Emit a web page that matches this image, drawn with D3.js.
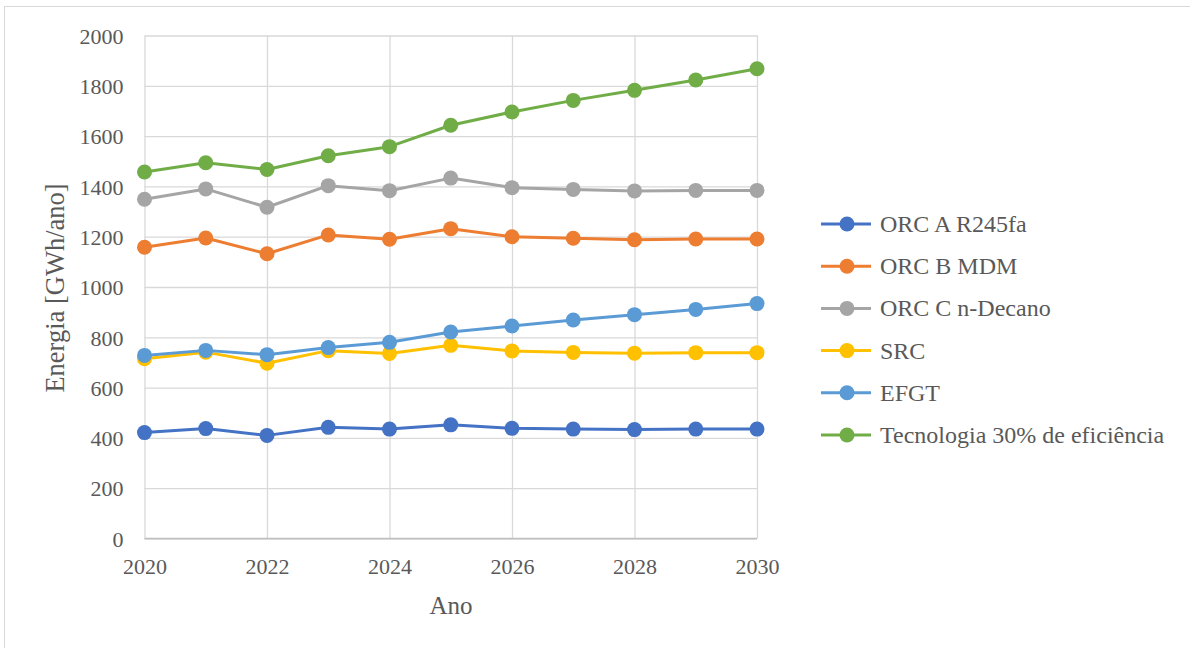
<!DOCTYPE html>
<html>
<head>
<meta charset="utf-8">
<script src="https://cdn.jsdelivr.net/npm/d3@7"></script>
<style>
  html, body { margin: 0; padding: 0; background: #fff; }
  svg { display: block; }
  text { font-family: "Liberation Serif", "Times New Roman", serif; fill: #595959; }
</style>
</head>
<body>
<svg id="chart" width="1190" height="648"></svg>
<script>
// Anos e séries de energia (GWh/ano)
const years = [2020, 2021, 2022, 2023, 2024, 2025, 2026, 2027, 2028, 2029, 2030];
const seriesNames = ["ORC A R245fa", "ORC B MDM", "ORC C n-Decano", "SRC", "EFGT", "Tecnologia 30% de eficiência"];
const orcA  = [421, 437, 410, 442, 435, 452, 438, 435, 433, 435, 435];
const orcB  = [1158, 1195, 1132, 1207, 1190, 1232, 1200, 1194, 1188, 1191, 1191];
const orcC  = [1349, 1390, 1317, 1403, 1383, 1433, 1395, 1388, 1382, 1384, 1384];
const src   = [715, 741, 697, 747, 736, 768, 746, 740, 737, 739, 739];
const efgt  = [728, 748, 731, 759, 780, 821, 845, 869, 890, 911, 934];
const tec30 = [1457, 1494, 1467, 1522, 1558, 1643, 1696, 1742, 1782, 1823, 1868];
const xTicks = [2020, 2022, 2024, 2026, 2028, 2030];
const yTicks = [0, 200, 400, 600, 800, 1000, 1200, 1400, 1600, 1800, 2000];
const colors = ["#4472C4", "#ED7D31", "#A5A5A5", "#FFC000", "#5B9BD5", "#70AD47"];

const allValues = [orcA, orcB, orcC, src, efgt, tec30];
const series = seriesNames.map((name, i) => ({
  name, color: colors[i],
  points: years.map((y, j) => ({ year: y, value: allValues[i][j] }))
}));

const FONT = "'Liberation Serif', 'Times New Roman', serif";
const svg = d3.select("#chart");

// moldura do gráfico
svg.append("rect")
  .attr("x", 4.5).attr("y", 6.5)
  .attr("width", 1200).attr("height", 700)
  .attr("fill", "none").attr("stroke", "#d9d9d9").attr("stroke-width", 1);

const x = d3.scaleLinear().domain([2020, 2030]).range([144.5, 757]);
const y = d3.scaleLinear().domain([0, 2000]).range([538.5, 35.5]);

// grelha horizontal e rótulos do eixo y
const gy = svg.append("g")
  .attr("transform", `translate(${x.range()[0]},0)`)
  .call(d3.axisLeft(y).tickValues(yTicks).tickFormat(d3.format("d"))
    .tickSize(-(x.range()[1] - x.range()[0])).tickPadding(21));
gy.attr("font-family", FONT).attr("font-size", 22);
gy.select(".domain").remove();
gy.selectAll(".tick line").attr("stroke", "#d9d9d9").attr("stroke-width", 1.3);
gy.selectAll(".tick text").attr("fill", "#595959").attr("dy", "0.35em");

// grelha vertical e rótulos do eixo x
const gx = svg.append("g")
  .attr("transform", `translate(0,${y(0)})`)
  .call(d3.axisBottom(x).tickValues(xTicks).tickFormat(d3.format("d"))
    .tickSize(-(y(0) - y(2000))).tickPadding(20));
gx.attr("font-family", FONT).attr("font-size", 22);
gx.select(".domain").remove();
gx.selectAll(".tick line").attr("stroke", "#d9d9d9").attr("stroke-width", 1.3);
gx.selectAll(".tick text").attr("fill", "#595959");

// eixo inferior
svg.append("line")
  .attr("x1", x.range()[0]).attr("x2", x.range()[1])
  .attr("y1", y(0)).attr("y2", y(0))
  .attr("stroke", "#bfbfbf").attr("stroke-width", 1.3);

// títulos dos eixos
svg.append("text")
  .attr("transform", `translate(55,288) rotate(-90)`)
  .attr("text-anchor", "middle")
  .attr("dy", "0.35em")
  .attr("font-size", 26.5)
  .text("Energia [GWh/ano]");
svg.append("text")
  .attr("x", 451).attr("y", 614)
  .attr("text-anchor", "middle")
  .attr("font-size", 25)
  .text("Ano");

// séries
const line = d3.line().x(d => x(d.year)).y(d => y(d.value));
const sg = svg.append("g").selectAll("g").data(series).join("g");
sg.append("path")
  .attr("d", d => line(d.points))
  .attr("fill", "none").attr("stroke", d => d.color)
  .attr("stroke-width", 3).attr("stroke-linejoin", "round");
sg.selectAll("circle").data(d => d.points.map(p => ({ ...p, color: d.color })))
  .join("circle")
  .attr("cx", d => x(d.year)).attr("cy", d => y(d.value))
  .attr("r", 7.5).attr("fill", d => d.color);

// legenda
const legend = svg.append("g").selectAll("g").data(series).join("g")
  .attr("transform", (d, i) => `translate(821,${224 + i * 42.2})`);
legend.append("line")
  .attr("x1", 0).attr("x2", 50)
  .attr("stroke", d => d.color).attr("stroke-width", 3);
legend.append("circle").attr("cx", 26).attr("r", 7.5).attr("fill", d => d.color);
legend.append("text")
  .attr("x", 59).attr("dy", "0.33em")
  .attr("font-size", 24)
  .text(d => d.name);
</script>
</body>
</html>
